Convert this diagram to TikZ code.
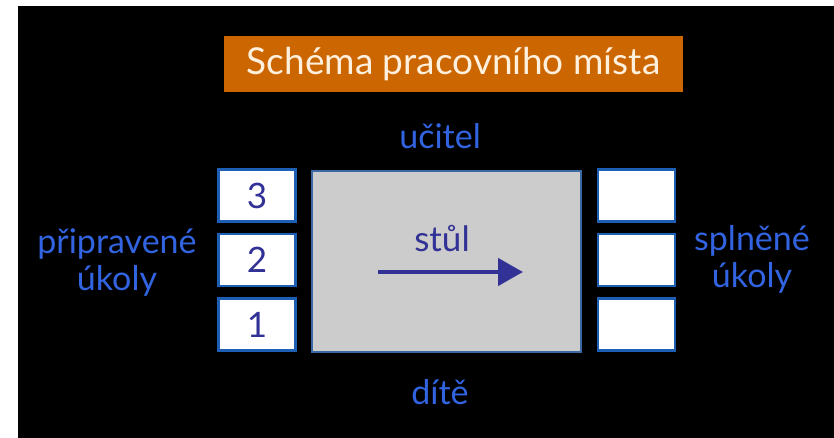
\documentclass[tikz,border=0pt]{standalone}
\usepackage{fontspec}
\setmainfont{Lato}
\usetikzlibrary{arrows.meta}
\begin{document}
\begin{tikzpicture}[x=1pt, y=-1pt]
    % Define colors
    \definecolor{titleorange}{RGB}{204, 102, 0}
    \definecolor{titletext}{RGB}{255, 240, 222}
    \definecolor{labelblue}{RGB}{50, 100, 225}
    \definecolor{inkblue}{RGB}{50, 50, 150}
    \definecolor{frameblue}{RGB}{30, 95, 180}
    \definecolor{deskgray}{RGB}{204, 204, 204}

    % Styles for the trays, the desk and the labels
    \tikzset{
      tray/.style={draw=frameblue, line width=2.5pt, fill=white, minimum width=77pt, minimum height=52pt, inner sep=0pt, text=inkblue, font=\fontsize{35}{35}\selectfont},
      desk/.style={draw=frameblue!70!gray, line width=2pt, fill=deskgray, minimum width=269pt, minimum height=180pt, inner sep=0pt},
      label/.style={text=labelblue, font=\fontsize{34}{37}\selectfont, align=center, inner sep=0pt}
    }

    % Page and black background
    \useasboundingbox (0, 0) rectangle (834, 438);
    \fill[white] (0, 0) rectangle (834, 438);
    \fill[black] (18, 6) rectangle (834, 438);

    % Title
    \node[fill=titleorange, text=titletext, minimum width=459pt, minimum height=56pt, inner sep=0pt, font=\fontsize{37}{37}\selectfont] (title) at (453.5, 64) {Schéma pracovního místa};

    % Teacher and child
    \node[label] (teacher) at (440, 136) {učitel};
    \node[label] (child) at (440, 392) {dítě};

    % Desk with the arrow
    \node[desk] (desk) at (446.5, 261.5) {};
    \node[text=inkblue, font=\fontsize{35}{35}\selectfont, inner sep=0pt] (deskname) at (442, 238) {stůl};
    \coordinate (arrstart) at (378, 272);
    \coordinate (arrend) at (523, 272);
    \draw[inkblue, line width=4.5pt, -{Triangle[length=25pt, width=27pt]}] (arrstart) -- (arrend);

    % Prepared tasks on the left
    \foreach \n/\y in {3/195.5, 2/260, 1/324.5}
      \node[tray] (todo\n) at (257, \y) {\n};
    \node[label] (todoname) at (117, 263) {připravené\\úkoly};

    % Finished tasks on the right
    \foreach \n/\y in {3/195.5, 2/260, 1/324.5}
      \node[tray] (done\n) at (636.5, \y) {};
    \node[label] (donename) at (752, 259) {splněné\\úkoly};
\end{tikzpicture}
\end{document}
